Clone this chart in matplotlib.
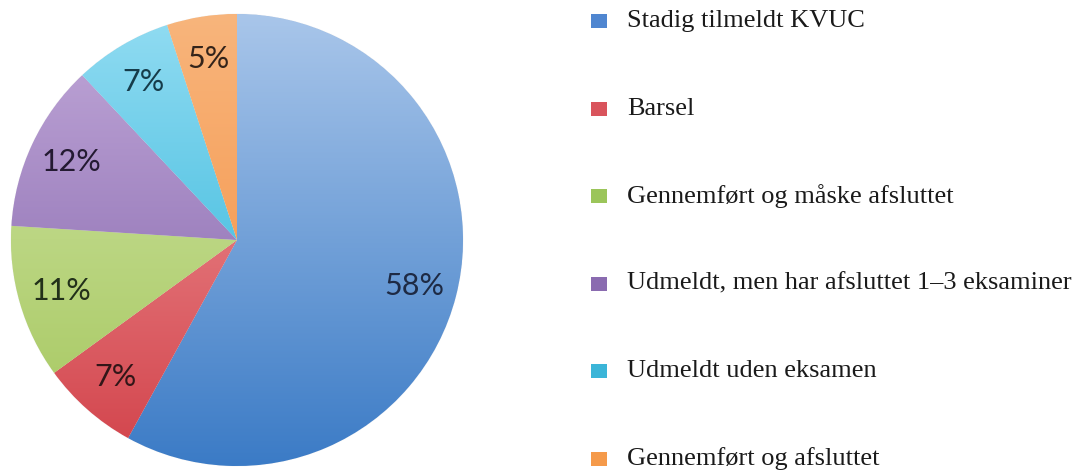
import numpy as np
import matplotlib
matplotlib.use("Agg")
import matplotlib.pyplot as plt
from matplotlib.patches import Rectangle
from matplotlib.colors import LinearSegmentedColormap

categories = ["Stadig tilmeldt KVUC", "Barsel", "Gennemført og måske afsluttet",
              "Udmeldt, men har afsluttet 1–3 eksaminer", "Udmeldt uden eksamen",
              "Gennemført og afsluttet"]
values = [58, 7, 11, 12, 7, 5]
labels_pct = ["58%", "7%", "11%", "12%", "7%", "5%"]

top_colors = ["#a9c6ea", "#f2a0a2", "#d2e6a8", "#c2a9d9", "#92dcf2", "#f8b57c"]
bot_colors = ["#3b7bc6", "#d2424a", "#a4c65c", "#7c5ca6", "#1eaed6", "#f48c3c"]
mid_colors = ["#4f86d0", "#d9545c", "#9bc55a", "#8a6bb0", "#3bb5d8", "#f59a4a"]
text_colors = ["#1e2a44", "#321618", "#22301a", "#241a32", "#163c4a", "#34241a"]

W, H = 1078, 473
fig = plt.figure(figsize=(W / 100, H / 100), dpi=100)
fig.patch.set_facecolor("white")

cx, cy, r = 237, 240, 226
ax = fig.add_axes([(cx - r) / W, (H - cy - r) / H, 2 * r / W, 2 * r / H])
wedges, texts, autotexts = ax.pie(values, startangle=90, counterclock=False,
                                  colors=mid_colors, autopct="%1.0f%%",
                                  pctdistance=0.81, radius=1,
                                  wedgeprops=dict(edgecolor="#f4f4f4", linewidth=0.6))
ax.set_xlim(-1.0, 1.0)
ax.set_ylim(-1.0, 1.0)
ax.set_aspect("equal")
ax.axis("off")

grad = np.linspace(0, 1, 256).reshape(-1, 1)
for i, w in enumerate(wedges):
    cmap = LinearSegmentedColormap.from_list("g%d" % i, [top_colors[i], bot_colors[i]])
    im = ax.imshow(grad, cmap=cmap, extent=[-1, 1, -1, 1], origin="upper",
                   aspect="auto", zorder=1.5)
    im.set_clip_path(w)
for i, t in enumerate(autotexts):
    t.set_text(labels_pct[i])
    t.set_fontfamily("Lato")
    t.set_fontsize(22)
    t.set_color(text_colors[i])
    t.set_zorder(3)

lax = fig.add_axes([0, 0, 1, 1])
lax.set_xlim(0, W)
lax.set_ylim(H, 0)
lax.axis("off")
y0, dy = 21, 87.5
for i, c in enumerate(categories):
    y = y0 + dy * i
    lax.add_patch(Rectangle((591, y - 7), 16, 14, facecolor=mid_colors[i], edgecolor="none"))
    lax.text(627, y, c, fontfamily="Liberation Serif", fontsize=19, color="#1a1a1a",
             va="center", ha="left")

fig.savefig("out.png", dpi=100)
